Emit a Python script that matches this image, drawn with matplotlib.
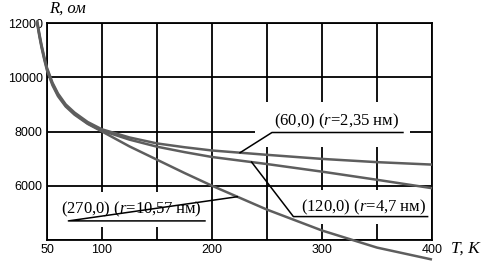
import numpy as np
import matplotlib.pyplot as plt

plt.rcParams['mathtext.fontset'] = 'custom'
plt.rcParams['mathtext.rm'] = 'Liberation Serif'
plt.rcParams['mathtext.it'] = 'Liberation Serif:italic'

# temperature, K
T = [41, 43, 45, 47.5, 50, 55, 60, 67, 75, 87, 100, 125, 150, 175, 200, 250, 300, 350, 400]
# resistance, Ohm
R_60 = [12100, 11620, 11200, 10750, 10350, 9800, 9400, 9000, 8700, 8350, 8080,
        7780, 7560, 7420, 7300, 7140, 6990, 6870, 6780]
R_120 = [12050, 11570, 11150, 10700, 10300, 9750, 9350, 8950, 8650, 8300, 8030,
         7700, 7440, 7240, 7060, 6800, 6520, 6220, 5910]
R_270 = [12000, 11520, 11100, 10650, 10250, 9700, 9300, 8920, 8620, 8280, 8000,
         7450, 6960, 6470, 6000, 5120, 4350, 3720, 3280]

x_ticks = [50, 100, 150, 200, 250, 300, 350, 400]
x_labels = ['50', '100', '', '200', '', '300', '', '400']
y_ticks = [4000, 6000, 8000, 10000, 12000]
y_labels = ['', '6000', '8000', '10000', '12000']

# label text, text anchor (centre x, baseline), underline span, leader target T, curve, white box
labels = [
    ('(60,0) ($r$=2,35 нм)', (313, 8230), (254.5, 373.6, 7963), 225.5, R_60, (239, 380, 7444, 9075)),
    ('(120,0) ($r$=4,7 нм)', (337.5, 5070), (274, 396, 4863), 236, R_120, (271, 398, 4593, 5852)),
    ('(270,0) ($r$=10,57 нм)', (127, 4990), (69.4, 193.6, 4704), 223, R_270, (61.8, 198, 4481, 5778)),
]

CURVE = '#5e5e5e'

fig = plt.figure(figsize=(4.85, 2.71), dpi=100)
ax = fig.add_axes([47 / 485, 1 - 240 / 271, 385 / 485, 217 / 271])

for R in (R_60, R_120, R_270):
    ax.plot(T, R, color=CURVE, lw=1.8, clip_on=False, zorder=4,
            solid_capstyle='butt')

for text, (tx, ty), (u0, u1, uy), t_end, R, (bx0, bx1, by0, by1) in labels:
    ax.fill_between([bx0, bx1], by0, by1, color='white', lw=0, zorder=2)
    r_end = np.interp(t_end, T, R)
    ax.plot([u1, u0, t_end], [uy, uy, r_end], color='black', lw=1.1, zorder=5,
            clip_on=False)
    ax.text(tx, ty, text, ha='center', va='baseline', fontsize=12,
            family='Liberation Serif', zorder=6)

ax.set_xlim(50, 400)
ax.set_ylim(4000, 12000)
ax.set_xticks(x_ticks)
ax.set_xticklabels(x_labels)
ax.set_yticks(y_ticks)
ax.set_yticklabels(y_labels)
ax.grid(True, color='black', lw=1.3, zorder=1)
ax.set_axisbelow(True)
for s in ax.spines.values():
    s.set_linewidth(1.3)
    s.set_zorder(1)
ax.tick_params(length=0, pad=3, labelsize=9)
for lab in ax.get_xticklabels() + ax.get_yticklabels():
    lab.set_family('Liberation Sans')

fig.text(49 / 485, 1 - 9 / 271, 'R, ом', family='Liberation Serif', style='italic',
         fontsize=12, ha='left', va='center')
fig.text(451 / 485, 1 - 249 / 271, 'T, K', family='Liberation Serif', style='italic',
         fontsize=12.5, ha='left', va='center')

fig.savefig('out.png', dpi=100)
